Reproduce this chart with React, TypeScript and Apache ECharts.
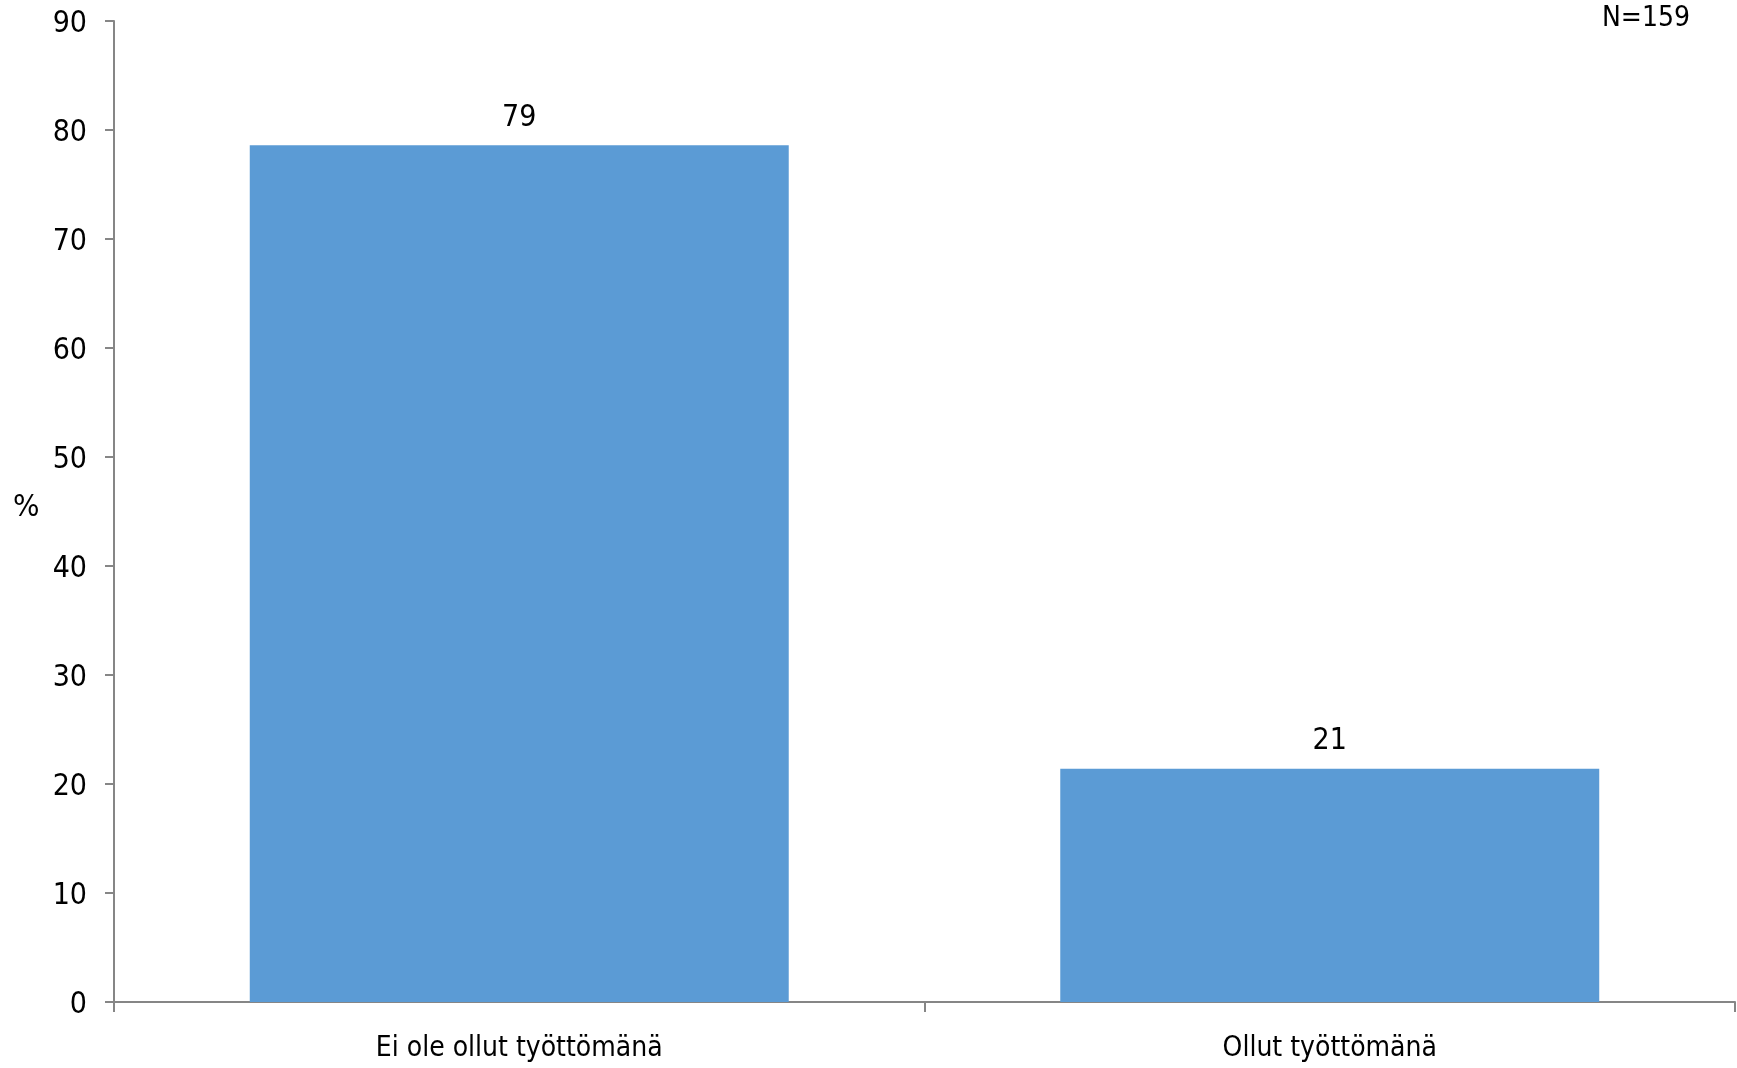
import React, { useEffect, useRef } from "react";
import * as echarts from "echarts";

const categories = ["Ei ole ollut työttömänä", "Ollut työttömänä"];
const values = [78.6, 21.4];
const yTicks = { min: 0, max: 90, interval: 10 };
const yAxisName = "%";
const note = "N=159";

const FONT = "'Liberation Sans Narrow', 'Arial Narrow', 'DejaVu Sans Condensed', sans-serif";
const FS = 28;
const FS_NUM = 30;

export default function App() {
  const ref = useRef<HTMLDivElement>(null);
  useEffect(() => {
    const chart = echarts.init(ref.current!, null, { renderer: "svg" });
    chart.setOption({
      animation: false,
      textStyle: { fontFamily: FONT },
      grid: { left: 114, right: 2, top: 21, bottom: 66, containLabel: false },
      graphic: [
        {
          type: "text",
          left: 13,
          top: 489,
          style: { text: yAxisName, fontSize: 31, fontFamily: FONT, fill: "#000" },
        },
        {
          type: "text",
          right: 47,
          top: 2,
          style: { text: note, fontSize: FS, fontFamily: FONT, fill: "#000" },
        },
      ],
      xAxis: {
        type: "category",
        data: categories,
        axisLine: { lineStyle: { color: "#868686", width: 2 } },
        axisTick: { show: true, length: 10, alignWithLabel: false, lineStyle: { color: "#868686", width: 2 } },
        axisLabel: { color: "#000", fontSize: FS, fontFamily: FONT, margin: 30 },
      },
      yAxis: {
        type: "value",
        min: yTicks.min,
        max: yTicks.max,
        interval: yTicks.interval,
        splitLine: { show: false },
        axisLine: { show: true, lineStyle: { color: "#868686", width: 2 } },
        axisTick: { show: true, length: 9, lineStyle: { color: "#868686", width: 2 } },
        axisLabel: { color: "#000", fontSize: FS_NUM, fontFamily: FONT, margin: 27 },
      },
      series: [
        {
          type: "bar",
          data: values,
          barWidth: "66.5%",
          itemStyle: { color: "#5B9BD5" },
          label: {
            show: true,
            position: "top",
            distance: 15,
            color: "#000",
            fontSize: FS_NUM,
            fontFamily: FONT,
            formatter: (p: any) => String(Math.round(p.value)),
          },
        },
      ],
    });
    return () => chart.dispose();
  }, []);
  return (
    <div
      ref={ref}
      style={{ position: "fixed", left: 0, top: 0, width: 1737, height: 1068 }}
    />
  );
}
